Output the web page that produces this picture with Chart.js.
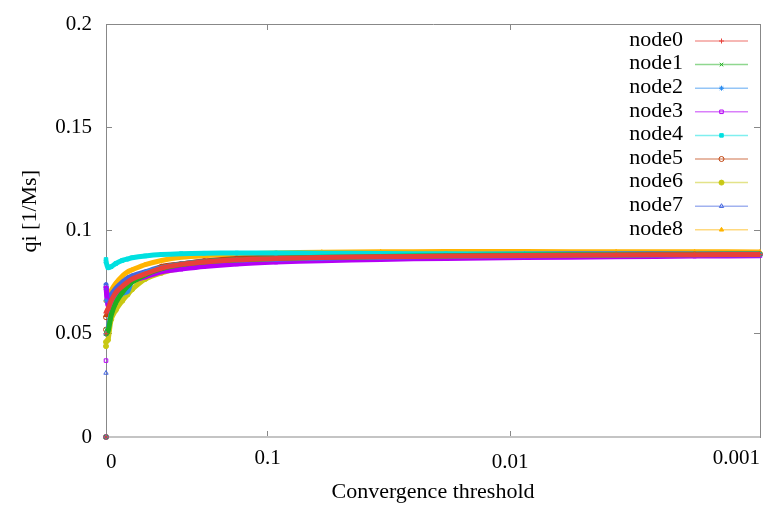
<!DOCTYPE html>
<html>
<head>
<meta charset="utf-8">
<script src="https://cdn.jsdelivr.net/npm/chart.js@4.4.1/dist/chart.umd.min.js"></script>
<style>
  html, body { margin: 0; padding: 0; background: #fff; }
  #wrap { width: 775px; height: 505px; }
</style>
</head>
<body>
<div id="wrap"><canvas id="qi" width="775" height="505"></canvas></div>
<script>
// iteration steps (the first three samples all sit at step 0)
const steps = [0, 0, 0, 3, 8, 15, 25, 33, 40, 60, 85, 115, 150, 200, 260, 330, 420, 520, 640, 780, 900, 1000];

// qi per node, one value per step
const node0 = [0, 0.050, 0.060, 0.062, 0.066, 0.070, 0.073, 0.075, 0.0765, 0.079, 0.0818, 0.0836, 0.0848, 0.0858, 0.0864, 0.0869, 0.0873, 0.0876, 0.0879, 0.0881, 0.0883, 0.0884];
const node1 = [0, 0.052, 0.050, 0.051, 0.059, 0.065, 0.070, 0.073, 0.075, 0.0785, 0.0815, 0.0835, 0.0848, 0.0858, 0.0865, 0.0870, 0.0874, 0.0878, 0.0881, 0.0883, 0.0884, 0.0885];
const node2 = [0, 0.066, 0.050, 0.052, 0.060, 0.066, 0.0695, 0.0705, 0.0755, 0.0795, 0.0820, 0.0838, 0.0849, 0.0857, 0.0862, 0.0867, 0.0871, 0.0875, 0.0878, 0.0880, 0.0882, 0.0883];
const node3 = [0, 0.037, 0.072, 0.064, 0.066, 0.069, 0.072, 0.074, 0.0755, 0.0775, 0.0800, 0.0813, 0.0826, 0.0838, 0.0847, 0.0854, 0.0860, 0.0865, 0.0869, 0.0873, 0.0876, 0.0878];
const node4 = [0, 0.086, 0.085, 0.082, 0.0825, 0.084, 0.0855, 0.0862, 0.0868, 0.0877, 0.0884, 0.0888, 0.0890, 0.0891, 0.0891, 0.0890, 0.0889, 0.0887, 0.0886, 0.0885, 0.0885, 0.0885];
const node5 = [0, 0.052, 0.058, 0.060, 0.066, 0.069, 0.072, 0.074, 0.0755, 0.0785, 0.0825, 0.0838, 0.0852, 0.0865, 0.0872, 0.0876, 0.0879, 0.0881, 0.0883, 0.0884, 0.0885, 0.0885];
const node6 = [0, 0.044, 0.046, 0.047, 0.057, 0.0615, 0.066, 0.069, 0.0715, 0.0765, 0.0795, 0.0818, 0.0838, 0.0855, 0.0866, 0.0872, 0.0876, 0.0879, 0.0882, 0.0884, 0.0885, 0.0885];
const node7 = [0, 0.031, 0.0736, 0.066, 0.069, 0.072, 0.075, 0.077, 0.078, 0.0800, 0.0823, 0.0838, 0.0850, 0.0860, 0.0866, 0.0872, 0.0878, 0.0883, 0.0886, 0.0888, 0.0888, 0.0888];
const node8 = [0, 0.059, 0.066, 0.067, 0.071, 0.0745, 0.078, 0.080, 0.081, 0.0835, 0.0855, 0.0870, 0.0878, 0.0885, 0.0891, 0.0895, 0.0897, 0.0898, 0.0898, 0.0897, 0.0897, 0.0896];

const nodeNames = ['node0', 'node1', 'node2', 'node3', 'node4', 'node5', 'node6', 'node7', 'node8'];
const nodeValues = [node0, node1, node2, node3, node4, node5, node6, node7, node8];

// x ticks: step position and the threshold printed under it
const xTickSteps = [0, 247, 618, 1000];
const xTickLabels = ['0', '0.1', '0.01', '0.001'];
const yTicks = [0, 0.05, 0.1, 0.15, 0.2];

// gnuplot-like line colours and point types
const colors = ['#e8403a', '#1fb01f', '#2a8cf0', '#b400f5', '#00e0e0', '#c0430e', '#c8c814', '#4466e0', '#ffb400'];
const marks = ['cross', 'crossRot', 'star', 'rect', 'rect', 'circle', 'circle', 'triangle', 'triangle'];
const filled = [true, true, true, false, true, false, true, false, true];

const serif = '"Liberation Serif", "DejaVu Serif", serif';

const datasets = nodeNames.map((name, k) => ({
  label: name,
  data: steps.map((s, i) => ({ x: s, y: nodeValues[k][i] })),
  borderColor: colors[k],
  backgroundColor: colors[k],
  borderWidth: 5,
  tension: 0.3,
  pointStyle: marks[k],
  pointRadius: 2.5,
  pointBorderWidth: 1,
  pointBorderColor: colors[k],
  pointBackgroundColor: filled[k] ? colors[k] : 'rgba(255,255,255,0)',
  clip: 3,
  segment: {
    // several samples share step 0: no line between them
    borderColor: ctx => ctx.p0.parsed.x === ctx.p1.parsed.x ? 'rgba(0,0,0,0)' : undefined
  }
}));

// key in the upper right corner: label, then a short line with the point mark
const keyBox = {
  id: 'keyBox',
  afterDraw(chart) {
    const { ctx, chartArea } = chart;
    const lineEnd = chartArea.right - 12;
    const lineStart = lineEnd - 53;
    const textRight = lineStart - 12;
    ctx.save();
    ctx.font = '22px ' + serif;
    ctx.textAlign = 'right';
    ctx.textBaseline = 'middle';
    chart.data.datasets.forEach((ds, i) => {
      const y = chartArea.top + 17 + i * 23.6;
      ctx.fillStyle = '#000';
      ctx.fillText(ds.label, textRight, y - 1);
      ctx.globalAlpha = 0.5;
      ctx.strokeStyle = ds.borderColor;
      ctx.lineWidth = 1.5;
      ctx.beginPath();
      ctx.moveTo(lineStart, y);
      ctx.lineTo(lineEnd, y);
      ctx.stroke();
      ctx.globalAlpha = 1;
      ctx.lineWidth = 1;
      ctx.fillStyle = ds.pointBackgroundColor;
      Chart.helpers.drawPoint(ctx, { pointStyle: ds.pointStyle, radius: 2.5, rotation: 0, borderWidth: 1 }, (lineStart + lineEnd) / 2, y);
    });
    ctx.restore();
  }
};

const tickFont = { family: serif, size: 21 };

new Chart(document.getElementById('qi'), {
  type: 'line',
  data: { datasets },
  options: {
    responsive: false,
    animation: false,
    layout: { padding: { left: 0, top: 24, right: 15, bottom: 0 } },
    plugins: {
      legend: { display: false },
      tooltip: { enabled: false }
    },
    scales: {
      x: {
        type: 'linear',
        min: 0,
        max: 1000,
        afterBuildTicks: s => { s.ticks = xTickSteps.map(v => ({ value: v })); },
        afterFit: s => { s.height = 68; s.paddingLeft = 0; s.paddingRight = 0; },
        ticks: {
          align: 'inner',
          padding: 15,
          color: '#000',
          // '0' and '0.01' sit a few pixels lower than the other two labels
          font: ctx => ({ family: serif, size: 21, lineHeight: ctx.index % 2 === 0 ? 1.6 : 1.2 }),
          callback: v => xTickLabels[xTickSteps.indexOf(v)]
        },
        grid: { drawOnChartArea: false, tickLength: -6, color: '#888' },
        border: { color: '#c4c4c4', width: 2 },
        title: {
          display: true,
          text: 'Convergence threshold',
          color: '#000',
          font: { family: serif, size: 22, lineHeight: 1 },
          padding: { top: 0, bottom: 2 }
        }
      },
      x2: {
        type: 'linear',
        position: 'top',
        min: 0,
        max: 1000,
        afterBuildTicks: s => { s.ticks = xTickSteps.map(v => ({ value: v })); },
        afterFit: s => { s.height = 0; s.paddingLeft = 0; s.paddingRight = 0; },
        ticks: { display: false },
        grid: { drawOnChartArea: false, tickLength: -6, color: '#888' },
        border: { color: '#888', width: 1 }
      },
      y: {
        min: 0,
        max: 0.2,
        afterBuildTicks: s => { s.ticks = yTicks.map(v => ({ value: v })); },
        afterFit: s => { s.width = 106; s.paddingTop = 0; s.paddingBottom = 0; },
        ticks: {
          padding: 20,
          color: '#000',
          font: tickFont,
          callback: v => String(+v.toFixed(2))
        },
        grid: { drawOnChartArea: false, tickLength: -6, color: '#888' },
        border: { color: '#888', width: 1 },
        title: {
          display: true,
          // leading spaces lift the label a bit above the axis middle
          text: '\u00a0\u00a0\u00a0\u00a0\u00a0\u00a0\u00a0qi [1/Ms]',
          color: '#000',
          font: { family: serif, size: 22, lineHeight: 1 },
          padding: { top: 19, bottom: 0 }
        }
      },
      y2: {
        position: 'right',
        min: 0,
        max: 0.2,
        afterBuildTicks: s => { s.ticks = yTicks.map(v => ({ value: v })); },
        afterFit: s => { s.width = 0; s.paddingTop = 0; s.paddingBottom = 0; },
        ticks: { display: false },
        grid: { drawOnChartArea: false, tickLength: -6, color: '#888' },
        border: { color: '#888', width: 1 }
      }
    }
  },
  plugins: [keyBox]
});
</script>
</body>
</html>
